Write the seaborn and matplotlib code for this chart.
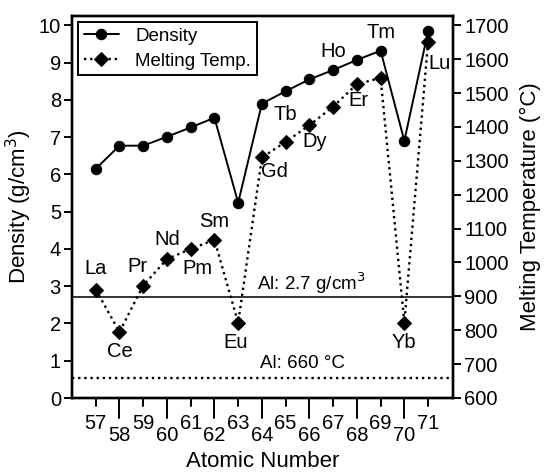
import matplotlib
matplotlib.use("Agg")
import matplotlib.pyplot as plt
import seaborn as sns
import pandas as pd

sns.set_theme(style="ticks")
plt.rcParams["font.family"] = ["Liberation Sans", "DejaVu Sans"]
plt.rcParams.update({"text.color": "black", "axes.labelcolor": "black",
                     "xtick.color": "black", "ytick.color": "black"})

atomic_number = [57, 58, 59, 60, 61, 62, 63, 64, 65, 66, 67, 68, 69, 70, 71]
element = ["La", "Ce", "Pr", "Nd", "Pm", "Sm", "Eu", "Gd", "Tb", "Dy", "Ho", "Er", "Tm", "Yb", "Lu"]
density = [6.15, 6.77, 6.77, 7.01, 7.26, 7.52, 5.24, 7.90, 8.23, 8.55, 8.80, 9.07, 9.32, 6.90, 9.84]
melting = [920, 795, 932, 1010, 1040, 1067, 822, 1310, 1356, 1405, 1460, 1526, 1545, 822, 1652]
al_density = 2.7
al_melting = 660

df = pd.DataFrame({"Z": atomic_number, "el": element, "rho": density, "Tm": melting})

fig = plt.figure(figsize=(5.45, 4.75), dpi=100)
ax = fig.add_axes([72 / 545, 1 - 398 / 475, (453 - 72) / 545, (398 - 16) / 475])
ax2 = ax.twinx()

dotted = (0, (1, 1.6))
sns.lineplot(data=df, x="Z", y="rho", ax=ax, color="black", lw=1.4, marker="o",
             markersize=7.5, markeredgecolor="black", label="Density", legend=False)
sns.lineplot(data=df, x="Z", y="Tm", ax=ax2, color="black", lw=1.7, ls=dotted,
             marker="D", markersize=6.8, markeredgecolor="black", label="Melting Temp.",
             legend=False)

ax.axhline(al_density, color="#333333", lw=1.4)
ax2.axhline(al_melting, color="black", lw=1.7, ls=dotted)

ax.set_xlim(56, 72.05)
ax.set_ylim(0, 10.25)
ax2.set_ylim(600, 600 + 10.25 * 110)

fs = 14.5
ax.set_yticks(range(0, 11))
ax2.set_yticks(range(600, 1701, 100))

# staggered x tick labels: odd numbers high with short ticks, even numbers low with long ticks
ax.set_xticks(atomic_number)
ax.set_xticklabels([])
ax.tick_params(axis="x", length=0)
for z in atomic_number:
    odd = z % 2 == 1
    tick = 0.021 if odd else 0.052
    off = 0.068 if odd else 0.097
    ax.plot([z, z], [0, -tick], transform=ax.get_xaxis_transform(), color="black",
            lw=1.4, clip_on=False)
    ax.text(z, -off, str(z), transform=ax.get_xaxis_transform(), ha="center",
            va="center", fontsize=fs)

ax.tick_params(axis="y", labelsize=fs, length=6, width=1.4, pad=2)
ax2.tick_params(axis="y", labelsize=fs, length=6, width=1.4, pad=2)
for a in (ax, ax2):
    for s in a.spines.values():
        s.set_linewidth(1.7)
        s.set_color("black")
        s.set_visible(True)

ax.set_xlabel("Atomic Number", fontsize=16, labelpad=35)
ax.set_ylabel("Density (g/cm$^3$)", fontsize=16, labelpad=3)
ax2.set_ylabel("Melting Temperature (°C)", fontsize=16, labelpad=8)

# element labels: offset (points) from the density point (D) or the melting point (T)
label_pos = {
    "La": (0, 15, "T"), "Ce": (0, -14, "T"), "Pr": (-4, 14, "T"), "Nd": (0, 14, "T"),
    "Pm": (5, -14, "T"), "Sm": (0, 13, "T"), "Eu": (-2, -14, "T"), "Gd": (9, -10, "T"),
    "Tb": (0, -17, "D"), "Dy": (4, -12, "T"), "Ho": (0, 13, "D"), "Er": (1, -12, "T"),
    "Tm": (0, 13, "D"), "Yb": (0, -14, "T"), "Lu": (8, -16, "T"),
}
for z, el, r, t in zip(atomic_number, element, density, melting):
    dx, dy, ref = label_pos[el]
    tgt, y = (ax, r) if ref == "D" else (ax2, t)
    tgt.annotate(el, (z, y), xytext=(dx, dy), textcoords="offset points",
                 ha="center", va="center", fontsize=fs)

ax.annotate("Al: 2.7 g/cm$^3$", (63.8, al_density), xytext=(0, 10),
            textcoords="offset points", fontsize=fs - 1, va="center", ha="left")
ax2.annotate("Al: 660 °C", (63.9, al_melting), xytext=(0, 10),
             textcoords="offset points", fontsize=fs - 1, va="center", ha="left")

h1, l1 = ax.get_legend_handles_labels()
h2, l2 = ax2.get_legend_handles_labels()
leg = ax.legend(h1 + h2, l1 + l2, loc="upper left", fontsize=13.5, frameon=True,
                fancybox=False, edgecolor="black", borderaxespad=0.32,
                handlelength=1.9, handletextpad=0.85, borderpad=0.3, labelspacing=0.42)
leg.get_frame().set_linewidth(1.4)
leg.get_frame().set_alpha(1)

fig.savefig("out.png", dpi=100)
